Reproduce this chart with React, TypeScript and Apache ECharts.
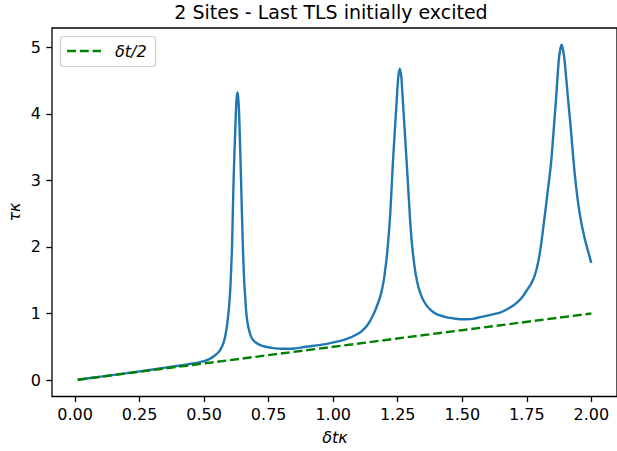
import { useEffect, useRef } from "react";
import * as echarts from "echarts";

// Blue curve
const blueX = [
  0.01, 0.1, 0.2, 0.3, 0.4, 0.45, 0.5, 0.52, 0.54, 0.558, 0.57, 0.58, 0.589, 0.596, 0.601, 0.605,
  0.608, 0.614, 0.6227, 0.626, 0.629, 0.632, 0.6355, 0.643, 0.65, 0.655, 0.659, 0.663, 0.668,
  0.674, 0.681, 0.69, 0.7, 0.715, 0.738, 0.76, 0.8, 0.85,
  0.893, 0.97, 1.047, 1.098, 1.12, 1.137, 1.15, 1.163, 1.173, 1.182, 1.19, 1.198, 1.21, 1.221,
  1.231, 1.2477, 1.252, 1.258, 1.264, 1.268, 1.285, 1.298, 1.305, 1.312, 1.32, 1.33, 1.343,
  1.358, 1.378, 1.40, 1.433, 1.46, 1.497, 1.54, 1.574, 1.61, 1.651, 1.69, 1.716, 1.735,
  1.752, 1.767, 1.78, 1.793, 1.806, 1.819, 1.83, 1.844, 1.855, 1.864, 1.875, 1.885, 1.895, 1.909,
  1.92, 1.937, 1.955, 1.973, 2.0,
];
const blueY = [
  0.005, 0.052, 0.104, 0.158, 0.215, 0.245, 0.285, 0.315, 0.365, 0.43, 0.51, 0.63, 0.83, 1.08, 1.35, 1.7,
  2.0, 3.0, 4.0, 4.24, 4.32, 4.24, 4.0, 3.0, 2.0, 1.5, 1.25, 1.02, 0.86,
  0.75, 0.66, 0.6, 0.565, 0.53, 0.5, 0.485, 0.47, 0.475,
  0.5, 0.54, 0.61, 0.7, 0.77, 0.85, 0.94, 1.05, 1.15, 1.25, 1.38, 1.55, 1.95, 2.5,
  3.25, 4.31, 4.55, 4.68, 4.55, 4.31, 3.25, 2.4, 2.05, 1.8, 1.58, 1.4, 1.25,
  1.14, 1.05, 0.99, 0.95, 0.93, 0.914, 0.92, 0.95, 0.98, 1.02, 1.1, 1.18, 1.26,
  1.36, 1.45, 1.56, 1.75, 2.05, 2.45, 2.8, 3.26, 3.8, 4.26, 4.85, 5.04, 4.85, 4.26,
  3.8, 3.05, 2.5, 2.15, 1.76,
];

// Green dashed line δt/2
const halfX = [0.01, 2.0];
const halfY = [0.005, 1.0];

const xTicks = [0, 0.25, 0.5, 0.75, 1.0, 1.25, 1.5, 1.75, 2.0];
const yTicks = [0, 1, 2, 3, 4, 5];

const titleText = "2 Sites - Last TLS initially excited";
const xLabel = "δtκ";
const yLabel = "τκ";
const legendLabel = "δt/2";

const FONT = "'DejaVu Sans', sans-serif";

export default function App() {
  const ref = useRef<HTMLDivElement>(null);

  useEffect(() => {
    const chart = echarts.init(ref.current!, null, { renderer: "svg" });
    const blueData = blueX.map((x, i) => [x, blueY[i]]);
    const halfData = halfX.map((x, i) => [x, halfY[i]]);

    const option: any = {
      animation: false,
      backgroundColor: "#ffffff",
      grid: {
        left: 52,
        right: -2.5,
        top: 28,
        bottom: 54.5,
        show: true,
        borderColor: "#000000",
        borderWidth: 1.3,
        backgroundColor: "transparent",
      },
      xAxis: {
        type: "value",
        min: -0.0895,
        max: 2.0995,
        axisLine: { show: false, onZero: false },
        splitLine: { show: false },
        axisTick: {
          show: true,
          inside: false,
          customValues: xTicks,
          length: 5.6,
          lineStyle: { color: "#000", width: 1.3 },
        },
        axisLabel: {
          customValues: xTicks,
          formatter: (v: number) => v.toFixed(2),
          color: "#000",
          fontFamily: FONT,
          fontSize: 16,
          margin: 10,
          showMinLabel: true,
          showMaxLabel: true,
        },
      },
      yAxis: {
        type: "value",
        min: -0.247,
        max: 5.29,
        axisLine: { show: false, onZero: false },
        splitLine: { show: false },
        axisTick: {
          show: true,
          inside: false,
          customValues: yTicks,
          length: 5.6,
          lineStyle: { color: "#000", width: 1.3 },
        },
        axisLabel: {
          customValues: yTicks,
          formatter: (v: number) => String(Math.round(v)),
          color: "#000",
          fontFamily: FONT,
          fontSize: 16,
          margin: 11,
        },
      },
      series: [
        {
          type: "line",
          name: "tau",
          data: blueData,
          showSymbol: false,
          symbol: "none",
          smooth: 0.25,
          lineStyle: { color: "#1f77b4", width: 2.4 },
          z: 3,
        },
        {
          type: "line",
          name: legendLabel,
          data: halfData,
          showSymbol: false,
          symbol: "none",
          lineStyle: { color: "#008000", width: 2.4, type: [9, 3.8] },
          z: 4,
        },
      ],
      graphic: [
        {
          type: "text",
          x: 331,
          y: 12,
          style: {
            text: titleText,
            font: `19px ${FONT}`,
            fill: "#000",
            align: "center",
            verticalAlign: "middle",
          },
        },
        {
          type: "text",
          x: 335,
          y: 437,
          style: {
            text: xLabel,
            font: `italic 16px ${FONT}`,
            fill: "#000",
            align: "center",
            verticalAlign: "middle",
          },
        },
        {
          type: "text",
          x: 14,
          y: 212,
          rotation: Math.PI / 2,
          style: {
            text: yLabel,
            font: `italic 16px ${FONT}`,
            fill: "#000",
            align: "center",
            verticalAlign: "middle",
          },
        },
        {
          type: "rect",
          shape: { x: 60.5, y: 36.5, width: 95, height: 30, r: 3 },
          style: { fill: "rgba(255,255,255,0.8)", stroke: "#cccccc", lineWidth: 1.2 },
          z: 10,
        },
        {
          type: "line",
          shape: { x1: 67, y1: 51, x2: 101, y2: 51 },
          style: { stroke: "#008000", lineWidth: 2.4, lineDash: [9, 3.8] },
          z: 11,
        },
        {
          type: "text",
          x: 115,
          y: 51,
          style: {
            text: legendLabel,
            font: `italic 16px ${FONT}`,
            fill: "#000",
            align: "left",
            verticalAlign: "middle",
          },
          z: 11,
        },
      ],
    };

    chart.setOption(option);
    return () => chart.dispose();
  }, []);

  return (
    <div
      ref={ref}
      style={{ position: "absolute", left: 0, top: 0, width: 617, height: 451 }}
    />
  );
}
